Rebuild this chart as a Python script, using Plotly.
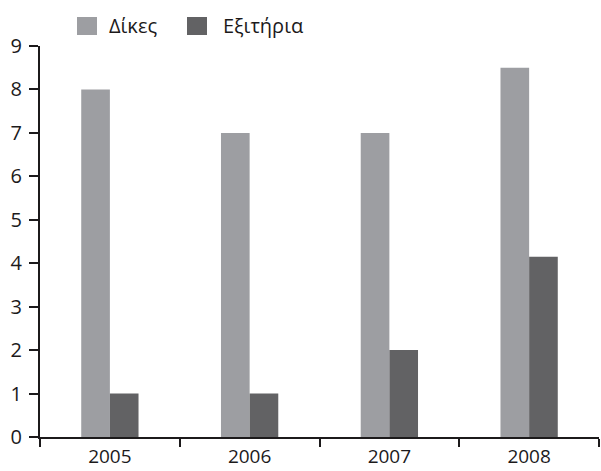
import plotly.graph_objects as go

# Data
years = ["2005", "2006", "2007", "2008"]
cases = [8, 7, 7, 8.5]          # Δίκες
releases = [1, 1, 2, 4.15]      # Εξιτήρια
y_ticks = list(range(0, 10))

series_names = ["Δίκες", "Εξιτήρια"]
series_colors = ["#9d9ea2", "#626264"]

W, H = 601, 471
M = dict(l=40, r=2, t=46, b=34)
FONT = "Open Sans, Noto Sans, sans-serif"
INK = "#1c1a1b"


def px_to_paper(x_px, y_px):
    pw = W - M["l"] - M["r"]
    ph = H - M["t"] - M["b"]
    return (x_px - M["l"]) / pw, (H - M["b"] - y_px) / ph


fig = go.Figure()
for name, vals, col in zip(series_names, [cases, releases], series_colors):
    fig.add_trace(go.Bar(x=years, y=vals, name=name, marker_color=col,
                         marker_line_width=0, showlegend=False))

# Legend drawn as swatches + labels above the plot
shapes, annotations = [], []
legend_items = [(77, 107), (187, 221)]
for (sx, tx), name, col in zip(legend_items, series_names, series_colors):
    x0, y0 = px_to_paper(sx, 35)
    x1, y1 = px_to_paper(sx + 20, 17)
    shapes.append(dict(type="rect", xref="paper", yref="paper", x0=x0, x1=x1,
                       y0=y0, y1=y1, fillcolor=col, line_width=0))
    ax, ay = px_to_paper(tx, 25)
    annotations.append(dict(text=name, xref="paper", yref="paper", x=ax, y=ay,
                            xanchor="left", yanchor="middle", showarrow=False,
                            font=dict(family=FONT, size=20, color=INK)))

fig.update_layout(
    width=W, height=H, margin=M,
    paper_bgcolor="white", plot_bgcolor="white",
    barmode="group", bargap=0.59, bargroupgap=0,
    shapes=shapes, annotations=annotations,
    font=dict(family=FONT, size=20, color=INK),
    xaxis=dict(
        type="category", showline=True, linecolor=INK, linewidth=2,
        ticks="outside", tickson="boundaries", ticklen=8, tickwidth=1.5,
        tickcolor=INK, showgrid=False, zeroline=False, ticklabelstandoff=1,
        automargin=False,
        tickfont=dict(family=FONT, size=19, color=INK),
    ),
    yaxis=dict(
        range=[0, 9], tickvals=y_ticks, showline=True, linecolor=INK, linewidth=2,
        ticks="outside", ticklen=9, tickwidth=1.5, tickcolor=INK,
        showgrid=False, zeroline=False, ticklabelstandoff=3, automargin=False,
        tickfont=dict(family=FONT, size=20, color=INK),
    ),
)

fig.write_html("out.html")
